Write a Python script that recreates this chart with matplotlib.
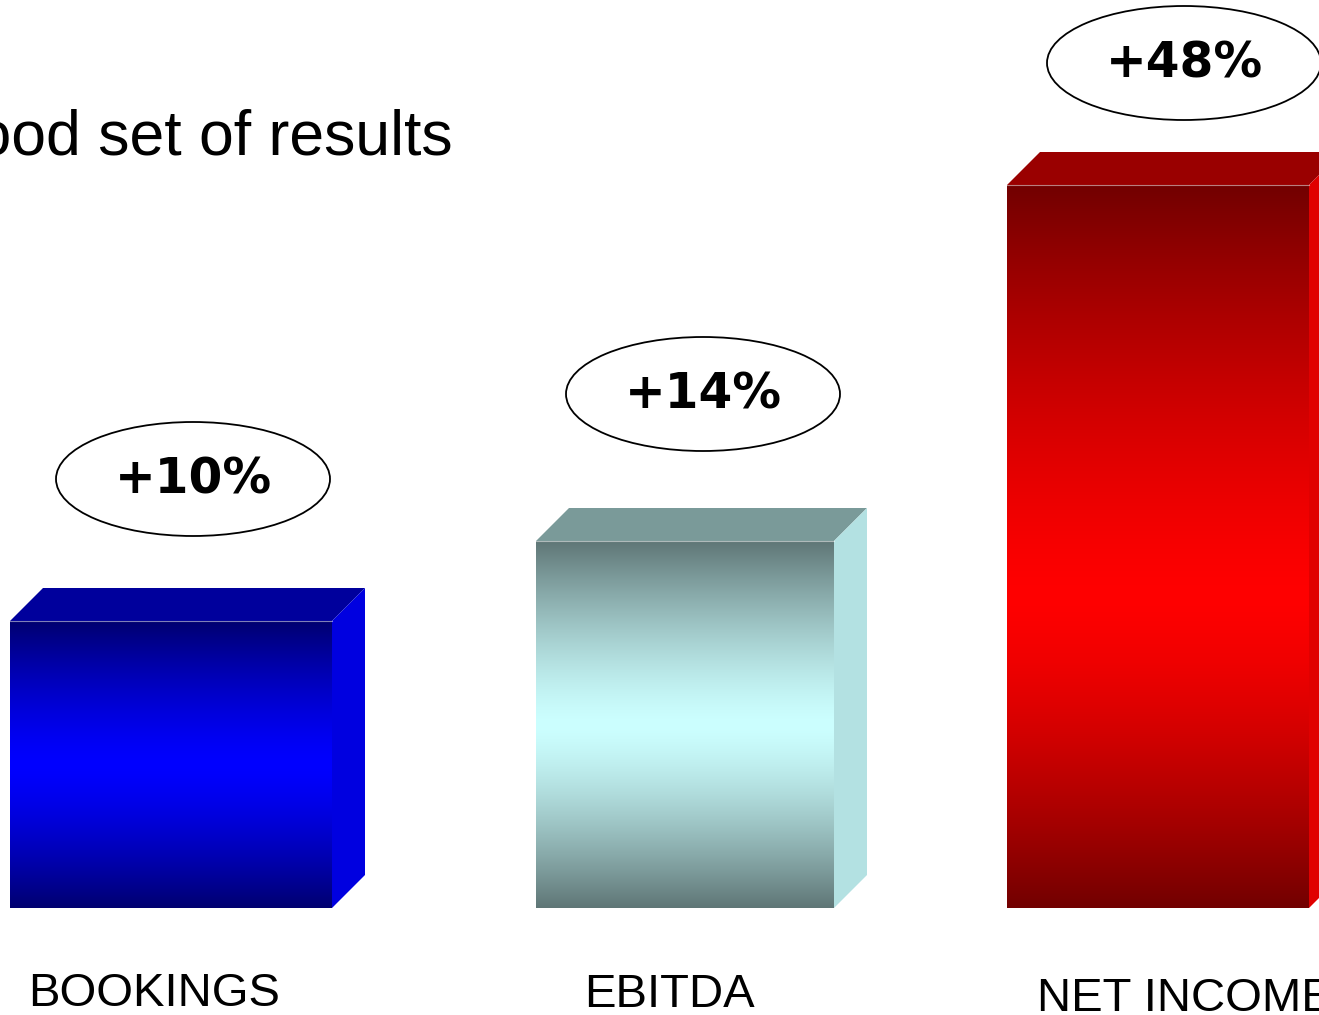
import numpy as np
import matplotlib
matplotlib.use("Agg")
import matplotlib.pyplot as plt
from matplotlib.patches import Polygon, Ellipse
from matplotlib.colors import to_rgb

# data
categories = ["BOOKINGS", "EBITDA", "NET INCOME"]
bar_heights = [287, 367, 723]          # relative bar size (px units on the value axis)
growth = ["+10%", "+14%", "+48%"]
title = "A good set of results"

# layout / style
bar_left = [10, 536, 1007]
bar_width = [322, 298, 302]
depth = 33
dark = ["#000070", "#5f7676", "#720000"]
light = ["#0000ff", "#ccffff", "#ff0000"]
top_col = ["#00009c", "#7a9a99", "#9a0000"]
side_col = ["#0000e0", "#b3e1e2", "#e00000"]
peak = [0.50, 0.50, 0.43]              # brightest point, fraction of height from bottom
ell_dx = [22, 18, 26]
ell_dy = [142, 147, 122]
lab_dx = [-17, -16, 27]
lab_base = [-98, -99, -103]            # label baselines below the bar base

W, H = 1319, 1015
BASE = 908  # baseline, px from top

fig = plt.figure(figsize=(W / 100, H / 100), dpi=100)
ax = fig.add_axes([0, 0, 1, 1])


def gradient(c0, c1, p, n=400):
    c0 = np.array(to_rgb(c0))
    c1 = np.array(to_rgb(c1))
    t = np.linspace(0, 1, n)
    # distance from the peak, 0 at peak, 1 at ends
    d = np.where(t < p, (p - t) / p, (t - p) / (1 - p))
    w = d ** 1.4
    col = c1[None, :] * (1 - w[:, None]) + c0[None, :] * w[:, None]
    return col[:, None, :]


for i, h in enumerate(bar_heights):
    l, w = bar_left[i], bar_width[i]
    ax.imshow(gradient(dark[i], light[i], peak[i]), extent=[l, l + w, 0, h],
              origin="lower", aspect="auto", interpolation="bilinear", zorder=2)
    top = Polygon([(l, h), (l + w, h), (l + w + depth, h + depth), (l + depth, h + depth)],
                  closed=True, fc=top_col[i], ec="none", zorder=2)
    side = Polygon([(l + w, 0), (l + w + depth, depth), (l + w + depth, h + depth), (l + w, h)],
                   closed=True, fc=side_col[i], ec="none", zorder=2)
    ax.add_patch(top)
    ax.add_patch(side)
    ax.plot([l, l + w], [h, h], color="white", lw=0.8, alpha=0.5, zorder=3)

    cx = l + w / 2 + ell_dx[i]
    cy = h + ell_dy[i]
    ax.add_patch(Ellipse((cx, cy), 274, 114, fc="white", ec="black", lw=1.3, zorder=4))
    ax.text(cx, cy, growth[i], ha="center", va="center", fontsize=35,
            fontweight="bold", family="DejaVu Sans", zorder=5)

    ax.text(l + w / 2 + lab_dx[i], lab_base[i], categories[i], ha="center", va="baseline",
            fontsize=34, family="Liberation Sans", zorder=5)

ax.text(453, BASE - 155, title, ha="right", va="baseline", fontsize=45,
        family="Liberation Sans")

ax.set_xlim(0, W)
ax.set_ylim(BASE - H, BASE)
ax.axis("off")

fig.savefig("out.png", dpi=100)
